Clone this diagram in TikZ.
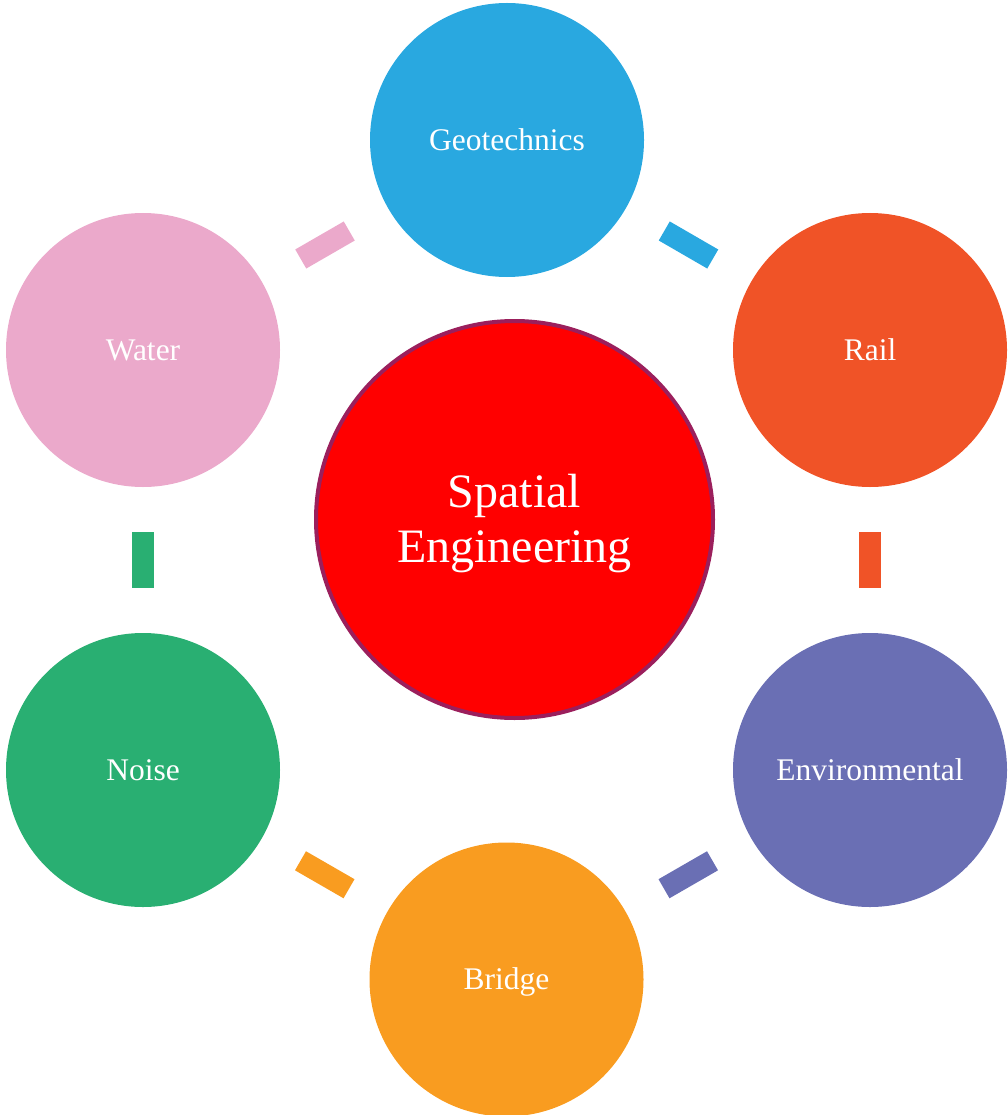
\documentclass[tikz,border=0pt]{standalone}
\usepackage{fontspec}
\setmainfont{Liberation Serif}
\definecolor{cgeo}{HTML}{29A8E0}
\definecolor{crail}{HTML}{F05327}
\definecolor{cenv}{HTML}{6A6FB4}
\definecolor{cbridge}{HTML}{F99C20}
\definecolor{cnoise}{HTML}{29AF72}
\definecolor{cwater}{HTML}{EBA9CB}
\definecolor{ccenter}{HTML}{FF0000}
\definecolor{cborder}{HTML}{9B1F5C}
\tikzset{
  outer/.style={circle, fill=#1, minimum size=274pt, inner sep=0pt, text=white,
    font=\fontsize{31.5}{36}\selectfont, text height=20.85pt, text depth=0pt},
  conn/.style={rectangle, fill=#1, minimum width=56pt, minimum height=22pt, inner sep=0pt, sloped, midway}
}
\begin{document}
\begin{tikzpicture}[x=1pt,y=-1pt]
\useasboundingbox (0,0) rectangle (1008,1115);
\node[circle, fill=ccenter, draw=cborder, line width=4pt, minimum size=397pt, inner sep=0pt,
  text=white, align=center, font=\fontsize{48}{55}\selectfont,
  text height=86.8pt, text depth=0pt] (c) at (514.5,519.5) {Spatial\\Engineering};
\node[outer=cgeo] (geo) at (507,140) {Geotechnics};
\node[outer=crail] (rail) at (870,350) {Rail};
\node[outer=cenv] (env) at (870,770) {Environmental};
\node[outer=cbridge] (bridge) at (506.5,979.5) {Bridge};
\node[outer=cnoise] (noise) at (143,770) {Noise};
\node[outer=cwater] (water) at (143,350) {Water};
\path (water.center) -- node[conn=cwater] (k1) {} (geo.center);
\path (geo.center) -- node[conn=cgeo] (k2) {} (rail.center);
\path (rail.center) -- node[conn=crail] (k3) {} (env.center);
\path (env.center) -- node[conn=cenv] (k4) {} (bridge.center);
\path (bridge.center) -- node[conn=cbridge] (k5) {} (noise.center);
\path (noise.center) -- node[conn=cnoise] (k6) {} (water.center);
\end{tikzpicture}
\end{document}
